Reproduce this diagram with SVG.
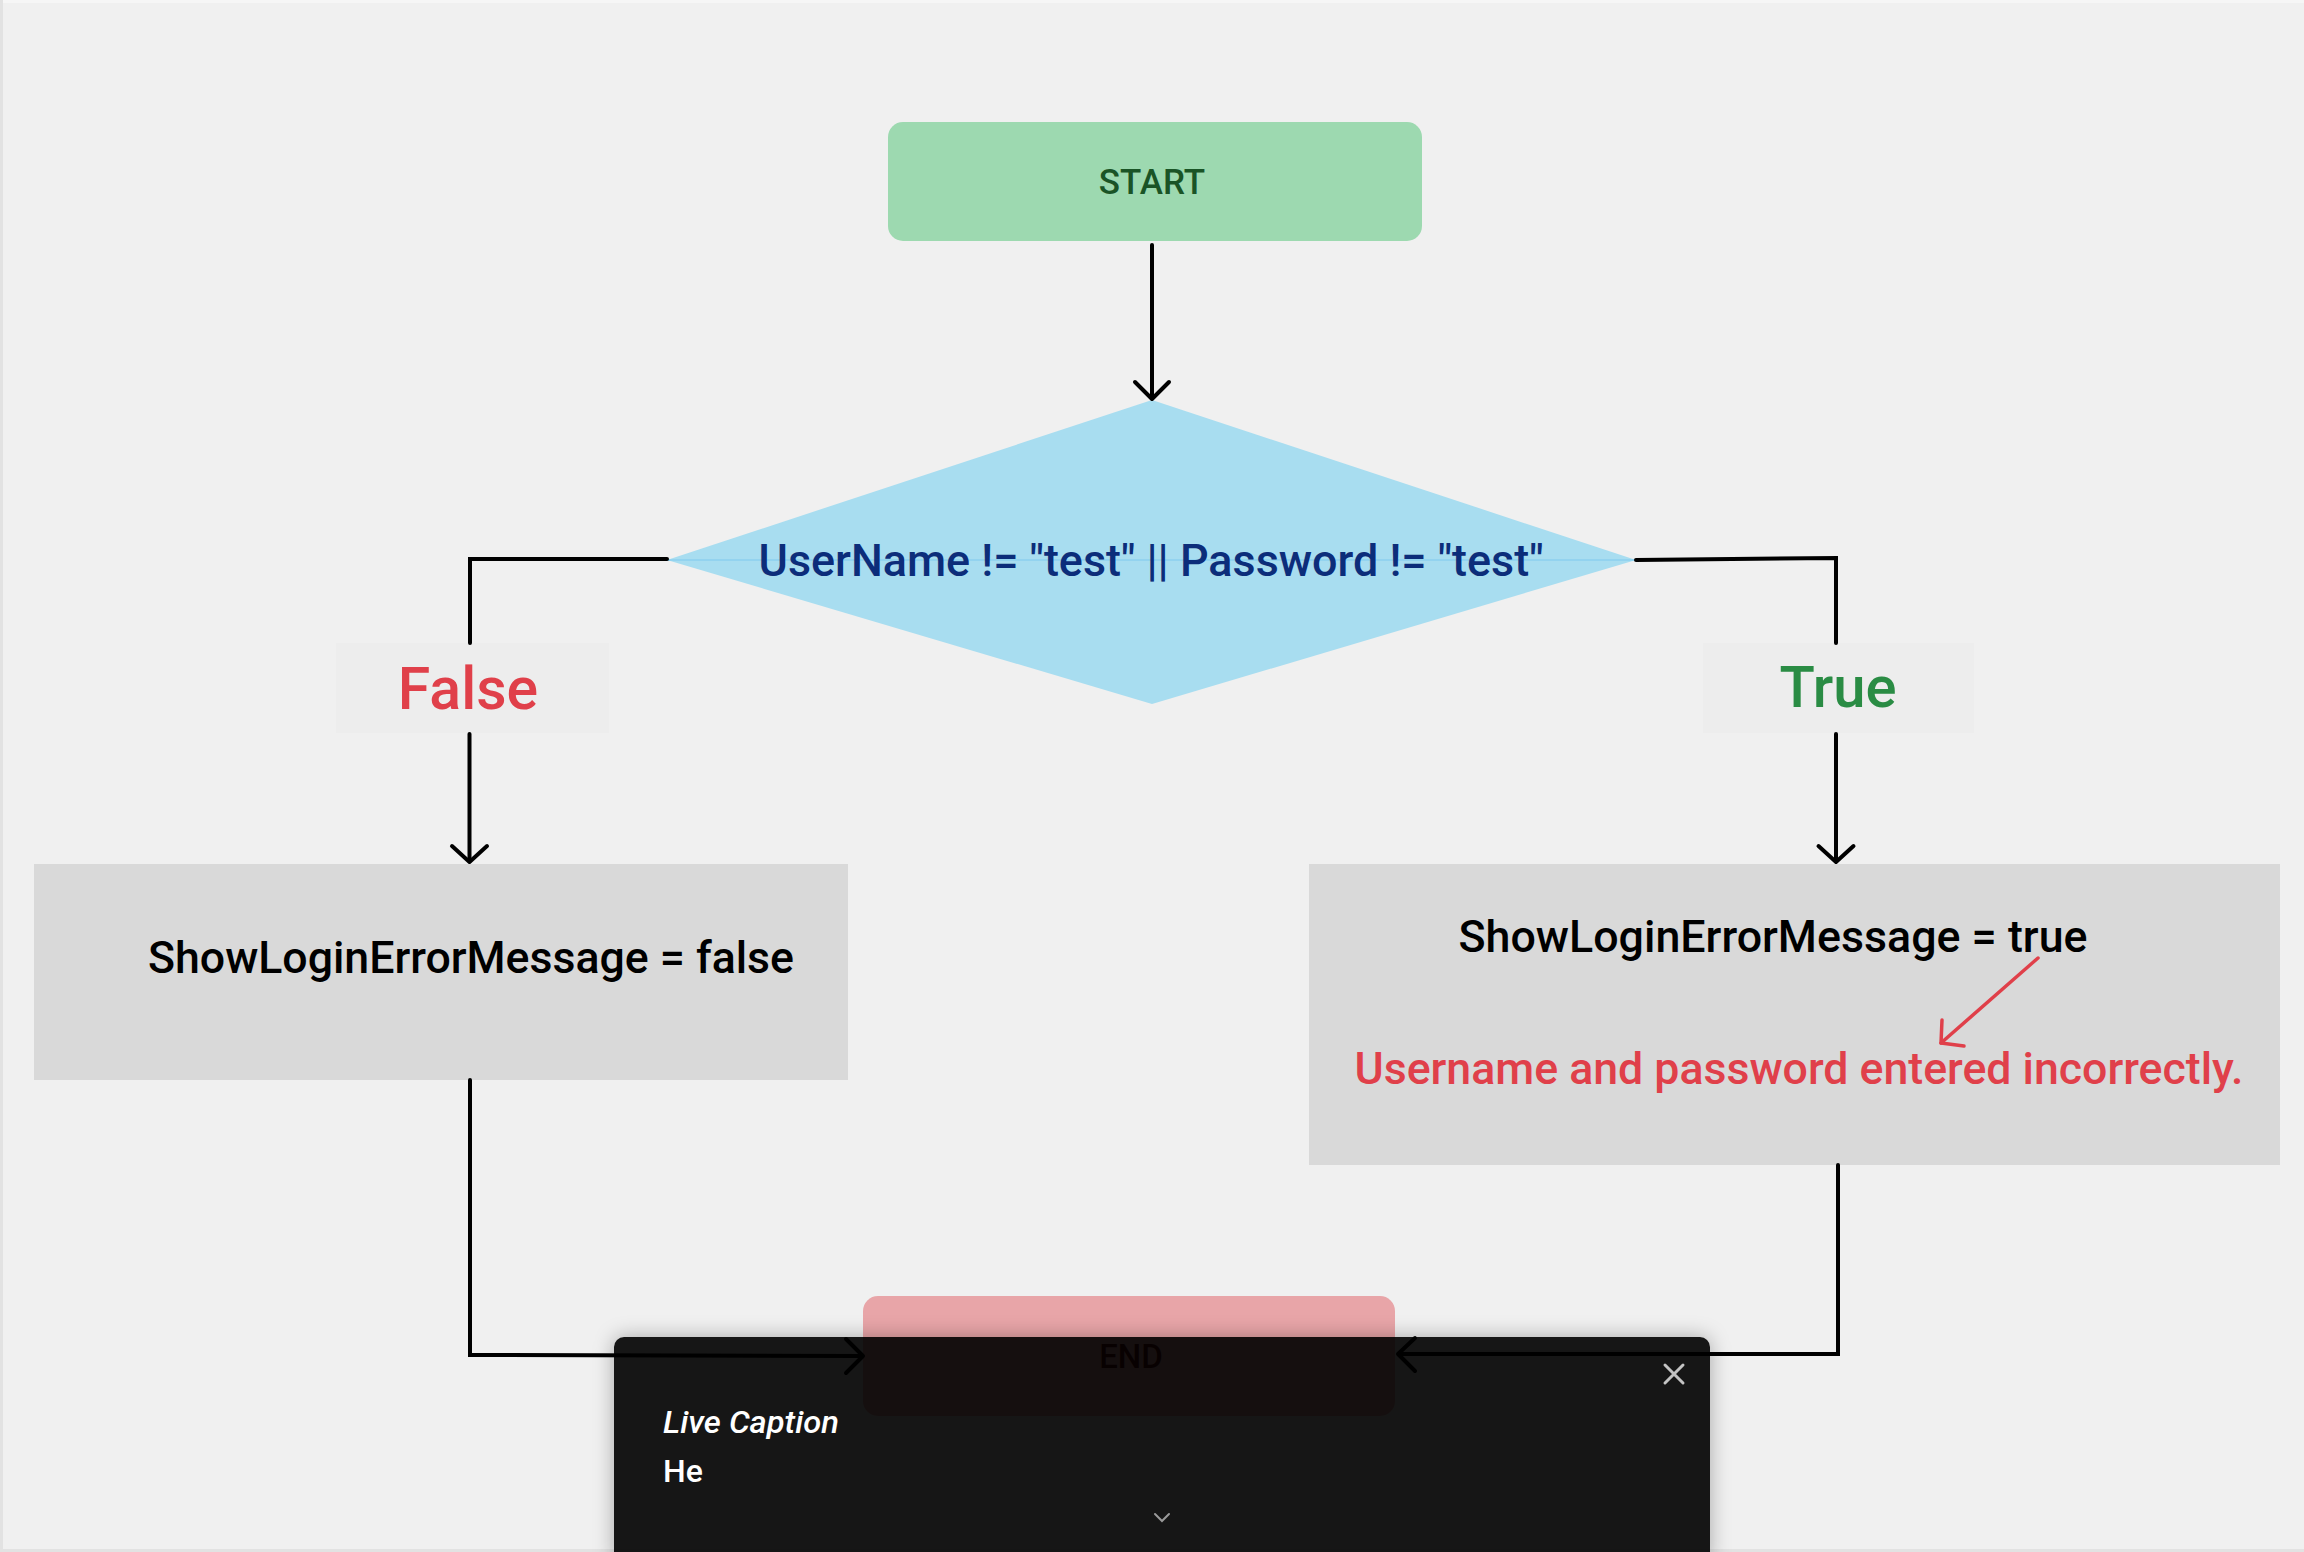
<svg xmlns="http://www.w3.org/2000/svg" width="2304" height="1552" viewBox="0 0 2304 1552">
  <style>
    text { font-family: Roboto, "Liberation Sans", sans-serif; font-weight: 500; }
    .c { text-anchor: middle; }
    .conn { fill: none; stroke: #000; stroke-width: 4; stroke-linecap: round; stroke-linejoin: miter; }
    .head { fill: none; stroke: #000; stroke-width: 4; stroke-linecap: round; stroke-linejoin: round; }
    .box { fill: #d9d9d9; }
    .lbl { fill: #ededed; }
  </style>
  <defs>
    <filter id="blur" x="-10%" y="-20%" width="120%" height="140%">
      <feGaussianBlur stdDeviation="10"/>
    </filter>
    <mask id="outside" maskUnits="userSpaceOnUse" x="0" y="0" width="2304" height="1552">
      <rect x="0" y="0" width="2304" height="1552" fill="#fff"/>
      <path d="M614,1347 a10,10 0 0 1 10,-10 h1076 a10,10 0 0 1 10,10 V1560 H614 Z" fill="#000"/>
    </mask>
  </defs>

  <rect x="0" y="0" width="2304" height="1552" fill="#f0f0f0"/>
  <rect x="0" y="0" width="3" height="1552" fill="#e2e2e2"/>
  <rect x="3" y="0" width="2301" height="3" fill="#f6f6f6"/>
  <rect x="0" y="1549" width="2304" height="3" fill="#e2e2e2"/>

  <g id="start">
    <rect x="888" y="122" width="534" height="119" rx="15" fill="#9dd9b0"/>
    <text class="c" x="1152" y="194" font-size="35" fill="#1a5426">START</text>
  </g>

  <g id="decision">
    <polygon points="1152,400 1636,560 1152,704 667,560" fill="#a8ddf0"/>
    <line x1="667" y1="560" x2="1636" y2="560" stroke="#93d3ef" stroke-width="2"/>
    <text class="c" x="1151" y="576" font-size="44" textLength="785" lengthAdjust="spacingAndGlyphs" fill="#0c2d7a">UserName != "test" || Password != "test"</text>
  </g>

  <g id="label-false">
    <rect class="lbl" x="336" y="643" width="273" height="90"/>
    <text class="c" x="468" y="709" font-size="59" fill="#e0404a">False</text>
  </g>

  <g id="label-true">
    <rect class="lbl" x="1703" y="643" width="271" height="90"/>
    <text class="c" x="1838" y="707" font-size="58" fill="#2a8c44">True</text>
  </g>

  <g id="set-false">
    <rect class="box" x="34" y="864" width="814" height="216"/>
    <text class="c" x="471" y="973" font-size="44" textLength="646" lengthAdjust="spacingAndGlyphs" fill="#000">ShowLoginErrorMessage = false</text>
  </g>

  <g id="set-true">
    <rect class="box" x="1309" y="864" width="971" height="301"/>
    <text class="c" x="1773" y="952" font-size="44" textLength="629" lengthAdjust="spacingAndGlyphs" fill="#000">ShowLoginErrorMessage = true</text>
    <line x1="2038" y1="958" x2="1941" y2="1043" stroke="#e0404a" stroke-width="3.5" stroke-linecap="round"/>
    <polyline points="1942,1020 1941,1043 1964,1046" fill="none" stroke="#e0404a" stroke-width="3.5" stroke-linecap="round" stroke-linejoin="round"/>
    <text class="c" x="1799" y="1084" font-size="44" textLength="889" lengthAdjust="spacingAndGlyphs" fill="#e0404a">Username and password entered incorrectly.</text>
  </g>

  <g id="end">
    <rect x="863" y="1296" width="532" height="120" rx="15" fill="#e8a5a8"/>
    <text class="c" x="1131" y="1368" font-size="33" fill="#5a1010">END</text>
  </g>

  <g id="connectors">
    <line class="conn" x1="1152" y1="245" x2="1152" y2="398"/>
    <polyline class="head" points="1135,382 1152,399 1169,382"/>

    <polyline class="conn" points="667,559 470,559 470,643"/>
    <line class="conn" x1="469.5" y1="734" x2="469.5" y2="861"/>
    <polyline class="head" points="452,846 469.5,862 487,846"/>

    <polyline class="conn" points="1636,560 1836,558 1836,643"/>
    <line class="conn" x1="1836" y1="734" x2="1836" y2="861"/>
    <polyline class="head" points="1818.5,846 1836,862 1853.5,846"/>

    <polyline class="conn" points="470,1080 470,1355 862,1356"/>
    <polyline class="head" points="846,1339 863,1356 846,1373"/>

    <polyline class="conn" points="1838,1165 1838,1354 1399,1354"/>
    <polyline class="head" points="1415,1338 1398,1354 1415,1371"/>
  </g>

  <g id="live-caption">
    <g mask="url(#outside)">
      <path d="M614,1347 a10,10 0 0 1 10,-10 h1076 a10,10 0 0 1 10,10 V1560 H614 Z" fill="#000" fill-opacity="0.3" filter="url(#blur)"/>
    </g>
    <path d="M614,1347 a10,10 0 0 1 10,-10 h1076 a10,10 0 0 1 10,10 V1560 H614 Z" fill="#000" fill-opacity="0.908"/>
    <text x="663" y="1433" font-size="32" font-style="italic" font-weight="400" textLength="176" lengthAdjust="spacingAndGlyphs" fill="#ffffff">Live Caption</text>
    <text x="663" y="1482" font-size="32" font-weight="400" fill="#ffffff">He</text>
    <path d="M1665,1365 L1683,1383 M1683,1365 L1665,1383" stroke="#c4c4c4" stroke-width="3" stroke-linecap="round" fill="none"/>
    <path d="M1155,1514 L1162,1521 L1169,1514" stroke="#9a9a9a" stroke-width="2" stroke-linecap="round" fill="none"/>
  </g>
</svg>
